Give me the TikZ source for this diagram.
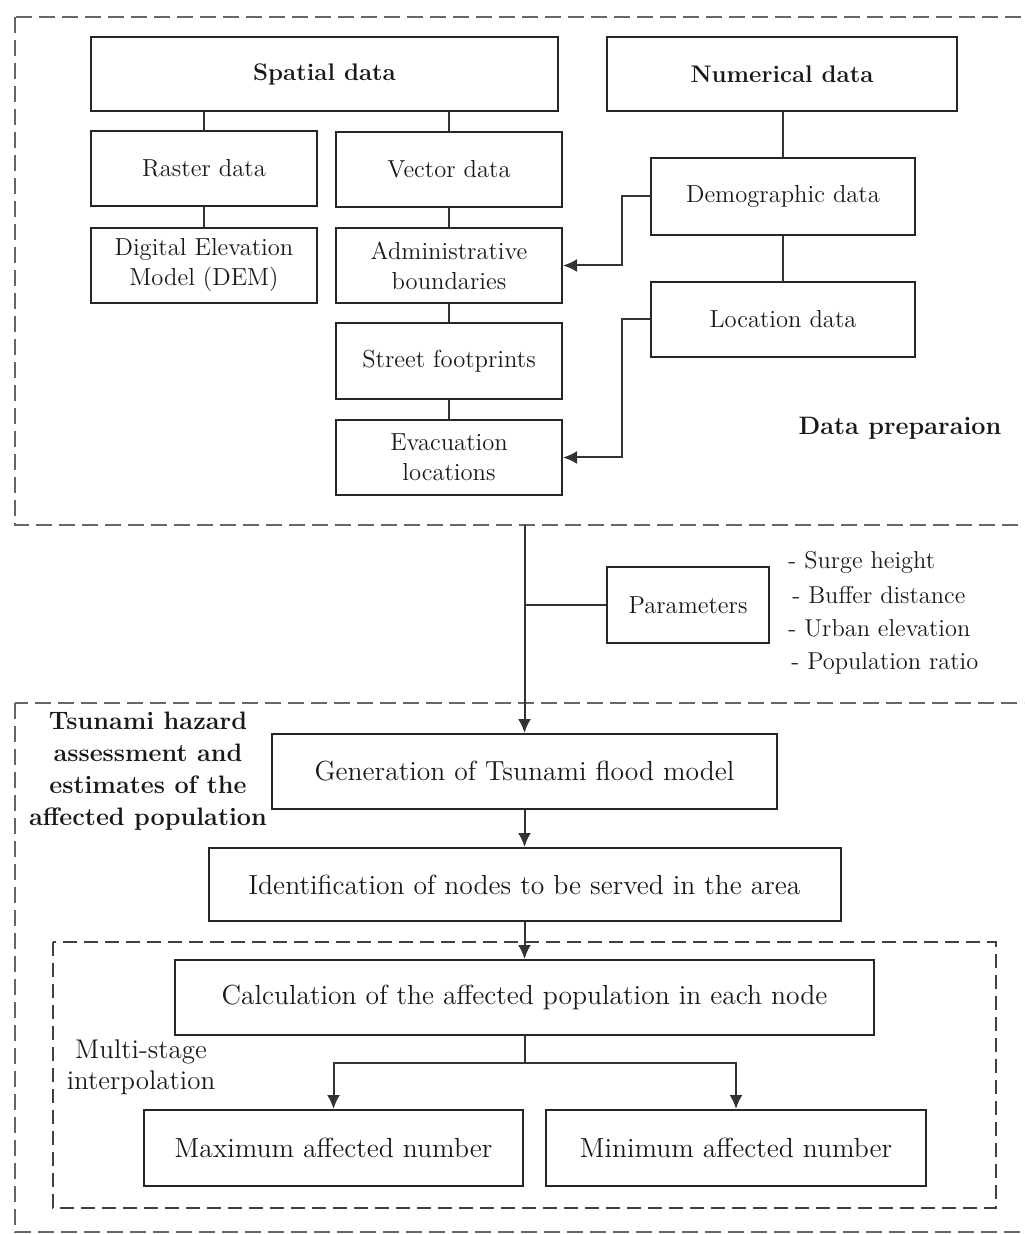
\documentclass[tikz,border=0pt]{standalone}
\usepackage{fontspec}
\usetikzlibrary{arrows.meta}

\begin{document}
\begin{tikzpicture}[x=0.5pt,y=-0.5pt,
  box/.style={draw=black!85, line width=1pt, fill=white, inner sep=0pt,
    align=center, text=black!90, font=\fontsize{12.3}{15}\selectfont},
  wide/.style={box, font=\fontsize{13.8}{16}\selectfont},
  hdr/.style={box, font=\fontsize{12}{15}\selectfont\bfseries},
  link/.style={draw=black!80, line width=1pt},
  arr/.style={link, -{Latex[length=7pt,width=6.5pt]}},
  zone/.style={draw=black!60, line width=1.3pt, dash pattern=on 8pt off 3.5pt},
  subzone/.style={draw=black!75, line width=1.3pt, dash pattern=on 7pt off 3.5pt},
  label/.style={align=center, text=black!90, font=\fontsize{12.6}{16}\selectfont\bfseries},
  note/.style={anchor=west, inner sep=0pt, text=black!90, font=\fontsize{12.2}{15}\selectfont}
]
\useasboundingbox (0,0) rectangle (1024,1234);
\clip (0,0) rectangle (1024,1234);

% dashed frames of the two stages
\draw[zone] (15,17) rectangle (1045,525);
\draw[zone] (15,703) rectangle (1045,1232);
\draw[subzone] (53,942) rectangle (996,1208);

% ---- data preparation ----
\node[hdr, minimum width=233.5pt, minimum height=37pt] (spatial) at (324.5,74) {Spatial data};
\node[hdr, minimum width=175pt, minimum height=37pt] (numerical) at (782,74) {Numerical data};

\node[box, minimum width=113pt, minimum height=37.5pt] (raster) at (204,168.5) {Raster data};
\node[box, minimum width=113pt, minimum height=37.5pt] (vector) at (449,169.5) {Vector data};
\node[box, minimum width=113pt, minimum height=37.5pt] (dem) at (204,265.5) {Digital Elevation\\Model (DEM)};
\node[box, minimum width=113pt, minimum height=37.5pt] (admin) at (449,265.5) {Administrative\\boundaries};
\node[box, minimum width=113pt, minimum height=38pt] (street) at (449,361) {Street footprints};
\node[box, minimum width=113pt, minimum height=37.5pt] (evac) at (449,457.5) {Evacuation\\locations};

\node[box, minimum width=132pt, minimum height=38.5pt] (demo) at (783,196.5) {Demographic data};
\node[box, minimum width=132pt, minimum height=37.5pt] (loc) at (783,319.5) {Location data};

\node[label] (prep) at (900,428) {Data preparaion};

\draw[link] (spatial.south -| raster.north) -- (raster.north);
\draw[link] (spatial.south -| vector.north) -- (vector.north);
\draw[link] (raster) -- (dem);
\draw[link] (vector) -- (admin);
\draw[link] (admin) -- (street);
\draw[link] (street) -- (evac);
\draw[link] (numerical.south -| demo.north) -- (demo.north);
\draw[link] (demo) -- (loc);
\draw[arr] (demo.west) -- (622,196.5) |- (admin.east);
\draw[arr] (loc.west) -- (622,319.5) |- (evac.east);

% ---- parameters ----
\node[box, minimum width=81pt, minimum height=38pt] (params) at (688,605) {Parameters};
\node[note] (p1) at (788,562) {- Surge height};
\node[note] (p2) at (792,595) {- Buffer distance};
\node[note] (p3) at (788,628) {- Urban elevation};
\node[note] (p4) at (791,663) {- Population ratio};

% ---- hazard assessment ----
\node[label] (hazard) at (148,771) {Tsunami hazard\\assessment and\\estimates of the\\affected population};
\node[wide, minimum width=252.5pt, minimum height=37.5pt] (gen) at (524.5,771.5) {Generation of Tsunami flood model};
\node[wide, minimum width=316pt, minimum height=36.5pt] (ident) at (524.5,884.5) {Identification of nodes to be served in the area};
\node[wide, minimum width=349.5pt, minimum height=37.5pt] (calc) at (524.5,997.5) {Calculation of the affected population in each node};
\node[wide, minimum width=189.5pt, minimum height=38pt] (maxn) at (333.5,1148) {Maximum affected number};
\node[wide, minimum width=190pt, minimum height=38pt] (minn) at (736,1148) {Minimum affected number};
\node[align=center, text=black!90, font=\fontsize{13.5}{15.5}\selectfont] (multi) at (141,1067) {Multi-stage\\interpolation};

\coordinate (out) at (524.5,525);
\coordinate (join) at (524.5,605);
\coordinate (split) at (524.5,1063);
\draw[arr] (out) -- (gen.north);
\draw[link] (params.west) -- (join);
\draw[arr] (gen) -- (ident);
\draw[arr] (ident) -- (calc);
\draw[link] (calc.south) -- (split);
\draw[arr] (split) -| (maxn.north);
\draw[arr] (split) -| (minn.north);
\end{tikzpicture}
\end{document}
